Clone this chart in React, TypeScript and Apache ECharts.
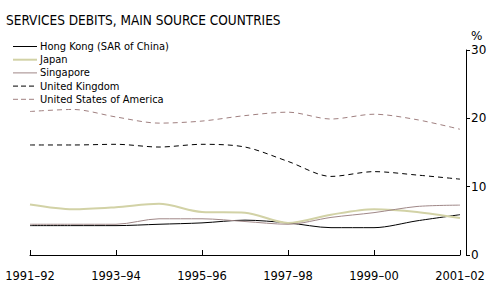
import React, { useEffect, useRef } from "react";
import * as echarts from "echarts";

const categories = ["1991–92", "1992–93", "1993–94", "1994–95", "1995–96", "1996–97", "1997–98", "1998–99", "1999–00", "2000–01", "2001–02"];
const hongKong = [4.3, 4.3, 4.3, 4.5, 4.7, 5.1, 4.7, 4.0, 4.0, 5.0, 5.9];
const japan = [7.4, 6.7, 7.0, 7.5, 6.3, 6.2, 4.7, 5.9, 6.7, 6.3, 5.4];
const singapore = [4.5, 4.5, 4.5, 5.3, 5.3, 4.9, 4.5, 5.5, 6.2, 7.1, 7.3];
const unitedKingdom = [16.1, 16.1, 16.2, 15.8, 16.2, 15.8, 13.7, 11.5, 12.2, 11.7, 11.1];
const unitedStates = [21.0, 21.3, 20.2, 19.3, 19.6, 20.4, 20.9, 19.9, 20.6, 19.8, 18.4];
const yTicks = { min: 0, max: 30, interval: 10 };

const FONT = "'DejaVu Sans', sans-serif";
const FONT_C = "'DejaVu Sans Condensed', 'DejaVu Sans', sans-serif";

const seriesDefs = [
  { name: "Hong Kong (SAR of China)", data: hongKong, color: "#000000", width: 1, type: "solid" as any },
  { name: "Japan", data: japan, color: "#d2d2a6", width: 2, type: "solid" as any },
  { name: "Singapore", data: singapore, color: "#a08888", width: 1, type: "solid" as any },
  { name: "United Kingdom", data: unitedKingdom, color: "#000000", width: 1, type: [5, 4] as any },
  { name: "United States of America", data: unitedStates, color: "#a08080", width: 1, type: [5, 4] as any },
];

export default function App() {
  const ref = useRef<HTMLDivElement>(null);
  useEffect(() => {
    document.body.style.margin = "0";
    const chart = echarts.init(ref.current!, null, { renderer: "svg" });
    const legendGraphics: any[] = [];
    seriesDefs.forEach((s, i) => {
      const y = 46.5 + i * 13.2;
      legendGraphics.push({
        type: "line",
        shape: { x1: 13, y1: y, x2: 37, y2: y },
        style: { stroke: s.color, lineWidth: s.width, lineDash: Array.isArray(s.type) ? [5, 3] : null },
      });
      legendGraphics.push({
        type: "text",
        x: 40,
        y,
        style: { text: s.name, fontFamily: FONT_C, fontSize: 11, fill: "#000", verticalAlign: "middle" },
      });
    });
    chart.setOption({
      animation: false,
      textStyle: { fontFamily: FONT },
      title: {
        text: "SERVICES DEBITS, MAIN SOURCE COUNTRIES",
        left: 1,
        top: 8,
        textStyle: { fontFamily: FONT_C, fontSize: 13.5, fontWeight: "normal", color: "#000" },
      },
      graphic: legendGraphics,
      grid: { left: 30, right: 36, top: 50, bottom: 37 },
      xAxis: {
        type: "category",
        data: categories,
        boundaryGap: false,
        offset: 9,
        axisLine: { lineStyle: { color: "#000", width: 1 } },
        axisTick: { inside: true, length: 5, interval: 1, lineStyle: { color: "#000" } },
        axisLabel: { interval: 1, color: "#000", fontSize: 11.5, fontFamily: FONT, margin: 6 },
      },
      yAxis: {
        type: "value",
        position: "right",
        offset: 6,
        min: yTicks.min,
        max: yTicks.max,
        interval: yTicks.interval,
        name: "%",
        nameLocation: "end",
        nameGap: 8,
        nameTextStyle: { color: "#000", fontSize: 12, fontFamily: FONT, align: "left", padding: [0, 0, 0, 5] },
        axisLine: { show: true, lineStyle: { color: "#000", width: 1 } },
        axisTick: { show: true, length: 4, lineStyle: { color: "#000" } },
        axisLabel: { color: "#000", fontSize: 12, fontFamily: FONT, margin: 5 },
        splitLine: { show: false },
      },
      series: seriesDefs.map((s) => ({
        name: s.name,
        type: "line",
        data: s.data,
        smooth: 0.3,
        symbol: "none",
        lineStyle: { color: s.color, width: s.width, type: s.type },
        itemStyle: { color: s.color },
      })),
    });
    return () => chart.dispose();
  }, []);
  return <div ref={ref} style={{ width: 496, height: 292 }} />;
}
